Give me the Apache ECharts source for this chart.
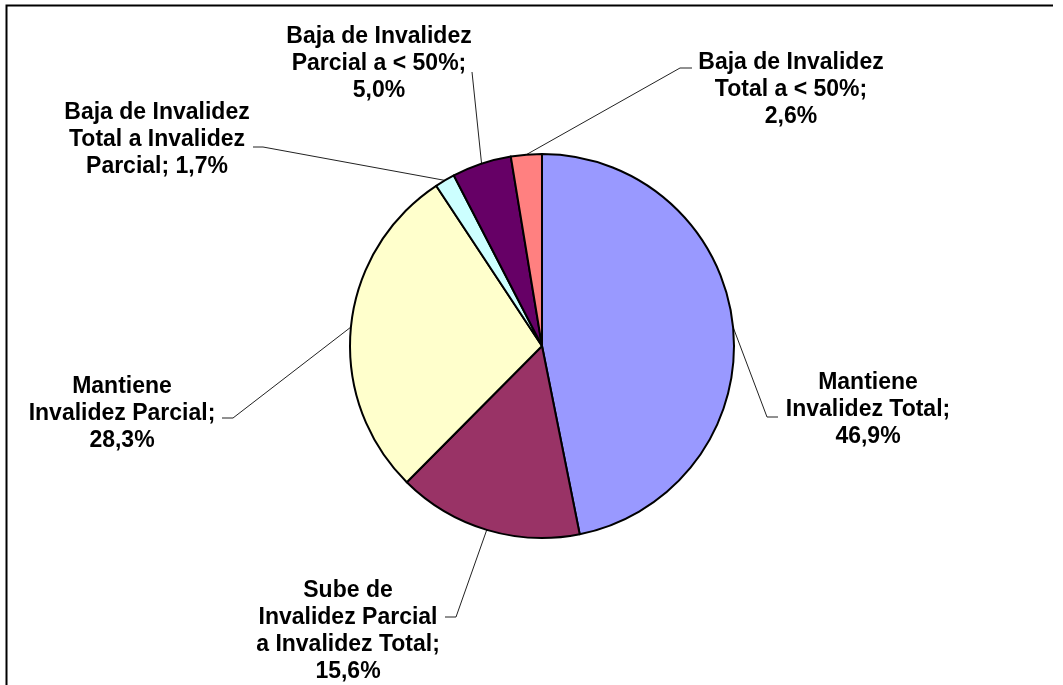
<!DOCTYPE html>
<html>
<head>
<meta charset="utf-8">
<script src="https://cdn.jsdelivr.net/npm/echarts@6/dist/echarts.min.js"></script>
<style>
html,body{margin:0;padding:0;background:#fff;}
#chart{width:1063px;height:685px;}
</style>
</head>
<body>
<div id="chart"></div>
<script>
// ---- data ----
const categories = [
  'Mantiene Invalidez Total',
  'Sube de Invalidez Parcial a Invalidez Total',
  'Mantiene Invalidez Parcial',
  'Baja de Invalidez Total a Invalidez Parcial',
  'Baja de Invalidez Parcial a < 50%',
  'Baja de Invalidez Total a < 50%'
];
const values = [46.9, 15.6, 28.3, 1.7, 5.0, 2.6];
// wrapped label text ({v} = value)
const labelTexts = [
  'Mantiene\nInvalidez Total;\n{v}',
  'Sube de\nInvalidez Parcial\na Invalidez Total;\n{v}',
  'Mantiene\nInvalidez Parcial;\n{v}',
  'Baja de Invalidez\nTotal a Invalidez\nParcial; {v}',
  'Baja de Invalidez\nParcial a < 50%;\n{v}',
  'Baja de Invalidez\nTotal a < 50%;\n{v}'
];
const colors = ['#9999FF', '#993366', '#FFFFCC', '#CCFFFF', '#660066', '#FF8080'];

// ---- layout (label placement, leader anchors) ----
const labelPos = [
  { x: 868, y: 410, end: [-90, 7],  bend: -11 },
  { x: 348, y: 631, end: [97, -14], bend: 11 },
  { x: 122, y: 414, end: [100, 4],  bend: 11 },
  { x: 157, y: 140, end: [96, 7],   bend: 10 },
  { x: 379, y: 64,  end: [93, 8],   bend: null },
  { x: 791, y: 90,  end: [-99, -22], bend: -12 }
];
const center = [542, 346];
const radius = 192;

function fmt(v) { return v.toFixed(1).replace('.', ',') + '%'; }

const total = values.reduce((a, b) => a + b, 0);
function midPoint(i) {
  let before = 0;
  for (let k = 0; k < i; k++) before += values[k];
  const frac = (before + values[i] / 2) / total;
  const ang = frac * 2 * Math.PI;
  return [center[0] + radius * Math.sin(ang), center[1] - radius * Math.cos(ang)];
}

const chart = echarts.init(document.getElementById('chart'), null, { renderer: 'canvas' });
chart.setOption({
  animation: false,
  backgroundColor: '#ffffff',
  graphic: [{
    type: 'polyline',
    shape: { points: [[1053, 5.5], [6.5, 5.5], [6.5, 700]] },
    style: { stroke: '#000', lineWidth: 2, fill: null },
    silent: true
  }],
  series: [{
    type: 'pie',
    center: center,
    radius: radius,
    startAngle: 90,
    clockwise: true,
    avoidLabelOverlap: false,
    data: categories.map((c, i) => ({
      name: c,
      value: values[i],
      itemStyle: { color: colors[i] }
    })),
    itemStyle: { borderColor: '#000', borderWidth: 2 },
    emphasis: { disabled: true },
    label: {
      show: true,
      position: 'outside',
      formatter: p => labelTexts[p.dataIndex].replace('{v}', fmt(p.value)),
      fontFamily: '"Liberation Sans", Arial, sans-serif',
      fontWeight: 'bold',
      fontSize: 23,
      lineHeight: 27,
      color: '#000',
      align: 'center'
    },
    labelLine: {
      show: true,
      length: 20,
      length2: 10,
      lineStyle: { color: '#222', width: 1 }
    },
    labelLayout: function (params) {
      const i = params.dataIndex;
      const p = labelPos[i];
      const start = (params.labelLinePoints && params.labelLinePoints[0]) || midPoint(i);
      const end = [p.x + p.end[0], p.y + p.end[1]];
      const pts = [start];
      if (p.bend != null) pts.push([end[0] + p.bend, end[1]]);
      pts.push(end);
      return {
        x: p.x,
        y: p.y,
        align: 'center',
        verticalAlign: 'middle',
        labelLinePoints: pts
      };
    }
  }]
});
</script>
</body>
</html>
